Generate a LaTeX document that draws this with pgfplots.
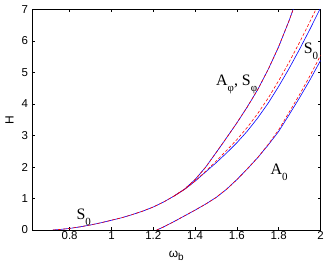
\documentclass[border=0pt]{standalone}
\usepackage{pgfplots}
\pgfplotsset{compat=1.18}
\usepackage{fontspec}
\setmainfont{Liberation Serif}
\newfontfamily\arial{Liberation Sans}
\newcommand{\sub}[1]{\raisebox{-0.38em}{\fontsize{11}{11}\selectfont #1}}
\begin{document}
\begin{tikzpicture}
\useasboundingbox (-32bp,-39bp) rectangle (295bp,230bp);
\begin{axis}[
  scale only axis, width=288.5bp, height=220.5bp,
  xmin=0.62, xmax=2, ymin=0, ymax=7,
  xtick={0.8,1,1.2,1.4,1.6,1.8,2},
  ytick={0,1,2,3,4,5,6,7},
  tick align=inside, major tick length=3bp,
  tick style={black, line width=0.4pt},
  axis line style={black, line width=0.5pt},
  /pgf/number format/assume math mode=true,
  tick label style={font=\arial\fontsize{11.5}{12}\selectfont},
  xticklabel style={yshift=2bp},
  yticklabel style={xshift=-0.5bp},
  xlabel={\arial\fontsize{12}{12}\selectfont ω\raisebox{-0.3em}{\fontsize{10}{10}\selectfont b}},
  ylabel={\arial\fontsize{12}{12}\selectfont H},
  xlabel style={at={(axis description cs:0.5,-0.118)}, anchor=center},
  ylabel style={at={(axis description cs:-0.078,0.5)}, anchor=center},
  clip=true,
]
% blue: S0 lower + S0 branch
\addplot[blue, line width=0.6pt] coordinates {
(0.72,0)(0.75,0.015)(0.8,0.05)(0.85,0.10)(0.9,0.16)(0.95,0.23)(1.0,0.31)(1.05,0.39)(1.1,0.49)(1.15,0.60)(1.2,0.73)(1.25,0.89)(1.3,1.08)(1.35,1.29)(1.4,1.55)(1.45,1.84)(1.5,2.13)(1.55,2.44)(1.6,2.77)(1.65,3.14)(1.7,3.56)(1.75,4.03)(1.8,4.56)(1.85,5.13)(1.9,5.74)(1.95,6.38)(2.0,7.05)};
% blue: A_phi branch
\addplot[blue, line width=0.6pt] coordinates {
(1.30,1.08)(1.35,1.30)(1.40,1.60)(1.45,1.99)(1.50,2.45)(1.55,2.92)(1.60,3.40)(1.65,3.91)(1.70,4.46)(1.75,5.1)(1.80,5.82)(1.85,6.65)(1.87,7.02)};
% blue: A0
\addplot[blue, line width=0.6pt] coordinates {
(1.217,0)(1.25,0.10)(1.3,0.27)(1.35,0.45)(1.4,0.63)(1.45,0.82)(1.5,1.03)(1.55,1.29)(1.6,1.60)(1.65,1.94)(1.7,2.30)(1.75,2.70)(1.8,3.13)(1.85,3.66)(1.9,4.20)(1.95,4.77)(2.0,5.38)};
% red dashed
\addplot[red, line width=0.6pt, dash pattern=on 3bp off 2bp] coordinates {
(0.72,0)(0.75,0.015)(0.8,0.05)(0.85,0.10)(0.9,0.16)(0.95,0.23)(1.0,0.31)(1.05,0.39)(1.1,0.49)(1.15,0.60)(1.2,0.73)(1.25,0.89)(1.3,1.08)(1.35,1.29)(1.4,1.55)(1.45,1.86)(1.5,2.18)(1.55,2.52)(1.6,2.87)(1.65,3.26)(1.7,3.70)(1.75,4.19)(1.8,4.74)(1.85,5.33)(1.9,5.96)(1.95,6.62)(2.0,7.31)};
\addplot[red, line width=0.6pt, dash pattern=on 3bp off 2bp] coordinates {
(1.30,1.08)(1.35,1.30)(1.40,1.60)(1.45,1.99)(1.50,2.45)(1.55,2.92)(1.60,3.40)(1.65,3.91)(1.70,4.46)(1.75,5.1)(1.80,5.82)(1.85,6.65)(1.87,7.02)};
\addplot[red, line width=0.6pt, dash pattern=on 3bp off 2bp] coordinates {
(1.217,0)(1.25,0.10)(1.3,0.27)(1.35,0.45)(1.4,0.63)(1.45,0.82)(1.5,1.03)(1.55,1.29)(1.6,1.60)(1.65,1.94)(1.7,2.30)(1.75,2.72)(1.8,3.18)(1.85,3.74)(1.9,4.30)(1.95,4.90)(2.0,5.54)};
\node[anchor=base west, inner sep=0pt, font=\fontsize{16}{18}\selectfont] at (axis cs:0.832,0.32) {S\sub{0}};
\node[anchor=base west, inner sep=0pt, font=\fontsize{16}{18}\selectfont] at (axis cs:1.50,4.6) {A\sub{φ}, S\sub{φ}};
\node[anchor=base west, inner sep=0pt, font=\fontsize{16}{18}\selectfont] at (axis cs:1.919,5.61) {S\sub{0}};
\node[anchor=base west, inner sep=0pt, font=\fontsize{16}{18}\selectfont] at (axis cs:1.76,1.75) {A\sub{0}};
\end{axis}
\end{tikzpicture}
\end{document}
